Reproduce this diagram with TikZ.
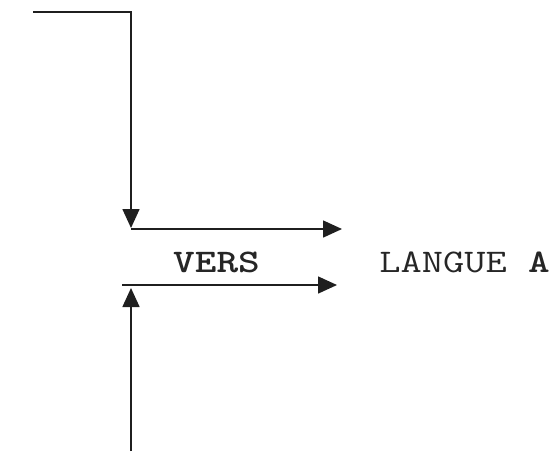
\documentclass[tikz,border=0pt]{standalone}
\usepackage{fontspec}
\usetikzlibrary{arrows.meta}

\newcommand{\wide}[1]{\scalebox{1.25}[1]{#1}}

\begin{document}
\begin{tikzpicture}[x=1pt,y=-1pt,
    flow/.style={black!88,line width=1.6pt,-{Triangle[length=19pt,width=17pt]}},
    word/.style={inner sep=0pt,anchor=base,font=\ttfamily\fontsize{33}{33}\selectfont,text=black!85}]
  \useasboundingbox (0,0) rectangle (556,451);

  % coordinates of the line ends
  \coordinate (top) at (33,12);
  \coordinate (corner) at (131,12);
  \coordinate (tipdown) at (131,228);
  \coordinate (upstart) at (131,229);
  \coordinate (upend) at (342,229);
  \coordinate (lowstart) at (122,285);
  \coordinate (lowend) at (337,285);
  \coordinate (bottom) at (131,451);
  \coordinate (tipup) at (131,288);

  \node[word] (vers) at (216.5,272) {\wide{\bfseries VERS}};
  \node[word] (langue) at (464.5,272) {\wide{LANGUE \textbf{A}}};

  \draw[flow] (top) -- (corner) -- (tipdown);
  \draw[flow] (upstart) -- (upend);
  \draw[flow] (lowstart) -- (lowend);
  \draw[flow] (bottom) -- (tipup);
\end{tikzpicture}
\end{document}
